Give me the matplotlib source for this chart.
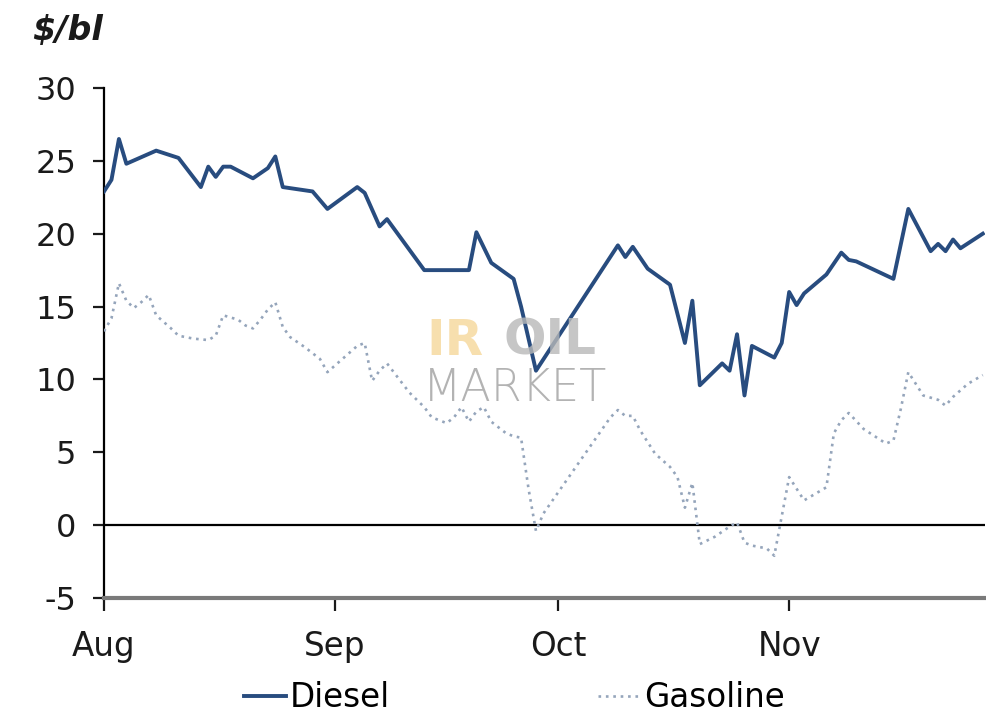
import matplotlib
matplotlib.use("Agg")
import matplotlib.pyplot as plt
import pandas as pd

plt.rcParams['font.family'] = ['DejaVu Sans']

# day 0 = 1 Aug
start = pd.Timestamp("2018-08-01")

diesel_days = [0, 1, 2, 3, 7, 10, 13, 14, 15, 16, 17, 20, 22, 23, 24, 28, 30, 34, 35, 37,
               38, 43, 49, 50, 52, 55, 56, 58, 69, 70, 71, 73, 76, 78, 79, 80, 83, 84, 85,
               86, 87, 90, 91, 92, 93, 94, 97, 99, 100, 101, 106, 108, 111, 112, 113, 114,
               115, 118]
diesel_vals = [22.9, 23.7, 26.5, 24.8, 25.7, 25.2, 23.2, 24.6, 23.9, 24.6, 24.6, 23.8, 24.5,
               25.3, 23.2, 22.9, 21.7, 23.2, 22.8, 20.5, 21.0, 17.5, 17.5, 20.1, 18.0, 16.9,
               15.0, 10.6, 19.2, 18.4, 19.1, 17.6, 16.5, 12.5, 15.4, 9.6, 11.1, 10.6, 13.1,
               8.9, 12.3, 11.5, 12.5, 16.0, 15.1, 15.9, 17.2, 18.7, 18.2, 18.1, 16.9, 21.7,
               18.8, 19.3, 18.8, 19.6, 19.0, 20.0]

gasoline_days = [0, 1, 2, 3, 4, 5, 6, 7, 9, 10, 12, 14, 15, 16, 18, 19, 20, 21, 22, 23, 24,
                 25, 27, 29, 30, 32, 34, 35, 36, 37, 38, 41, 43, 44, 46, 47, 48, 49, 50, 51,
                 52, 54, 55, 56, 57, 58, 59, 68, 69, 70, 71, 72, 74, 76, 77, 78, 79, 80, 82,
                 84, 85, 86, 87, 89, 90, 91, 92, 93, 94, 96, 97, 98, 99, 100, 102, 105, 106,
                 107, 108, 110, 112, 113, 114, 116, 118]
gasoline_vals = [13.3, 14.2, 16.6, 15.4, 14.9, 15.3, 15.8, 14.4, 13.5, 13.0, 12.8, 12.7, 13.0,
                 14.4, 14.1, 13.7, 13.5, 14.1, 14.8, 15.3, 13.6, 12.9, 12.2, 11.4, 10.5, 11.4,
                 12.3, 12.5, 9.9, 10.6, 11.1, 9.1, 8.1, 7.4, 7.0, 7.4, 8.1, 7.1, 7.8, 8.1, 7.1,
                 6.3, 6.1, 6.0, 2.5, -0.4, 0.8, 7.4, 7.9, 7.5, 7.5, 6.5, 4.9, 4.0, 3.3, 1.2,
                 2.9, -1.3, -0.8, -0.1, 0.2, -1.2, -1.4, -1.6, -2.1, 0.6, 3.3, 2.5, 1.7, 2.3,
                 2.6, 6.3, 7.2, 7.7, 6.6, 5.6, 5.8, 8.0, 10.5, 8.9, 8.6, 8.2, 8.8, 9.7, 10.3]

yticks = [-5, 0, 5, 10, 15, 20, 25, 30]
month_labels = ["Aug", "Sep", "Oct", "Nov"]

month_starts = pd.date_range(start, periods=4, freq="MS")
month_pos = [(m - start).days for m in month_starts]

fig = plt.figure(figsize=(9.87, 7.24), dpi=100)
ax = fig.add_axes([0.1054, 0.174, 0.8926, 0.7045])

ax.plot(diesel_days, diesel_vals, color="#284c7f", lw=2.8, label="Diesel", zorder=3)
ax.plot(gasoline_days, gasoline_vals, color="#95a5bb", lw=1.9, ls=(0, (1, 1.8)),
        label="Gasoline", zorder=3)
ax.axhline(0, color="black", lw=1.6, zorder=2)

ax.set_xlim(0, 118.3)
ax.set_ylim(-5, 30)
ax.set_yticks(yticks)
ax.set_yticklabels([str(v) for v in yticks])
ax.set_xticks(month_pos)
ax.set_xticklabels(month_labels)

for s in ["top", "right"]:
    ax.spines[s].set_visible(False)
ax.spines["left"].set_linewidth(1.6)
ax.spines["bottom"].set_color("#7a7a7a")
ax.spines["bottom"].set_linewidth(3)

ax.tick_params(axis="y", length=8, width=1.6, pad=12, labelsize=23, colors="#1a1a1a")
ax.tick_params(axis="x", length=9, width=1.6, pad=14, labelsize=23.5, colors="#1a1a1a")

# watermark
fig.text(0.432, 0.51, "IR", color="#f6d79a", alpha=0.8, fontsize=36, fontweight="bold",
         ha="left", va="baseline", zorder=1)
fig.text(0.51, 0.51, "OIL", color="#b8b8b8", alpha=0.8, fontsize=36, fontweight="bold",
         ha="left", va="baseline", zorder=1)
fig.text(0.428, 0.446, "MARKET", color="#a0a0a0", alpha=0.8, fontsize=32,
         fontweight="light", ha="left", va="baseline", zorder=1)

fig.text(0.033, 0.958, "$/bl", fontsize=24, fontweight="bold", fontstyle="italic",
         color="#1a1a1a", ha="left", va="center")

fig.legend(loc="center", bbox_to_anchor=(0.521, 0.036), ncol=2, frameon=False,
           fontsize=23.5, handlelength=1.3, handletextpad=0.1, columnspacing=6.4)

fig.savefig("out.png", dpi=100)
